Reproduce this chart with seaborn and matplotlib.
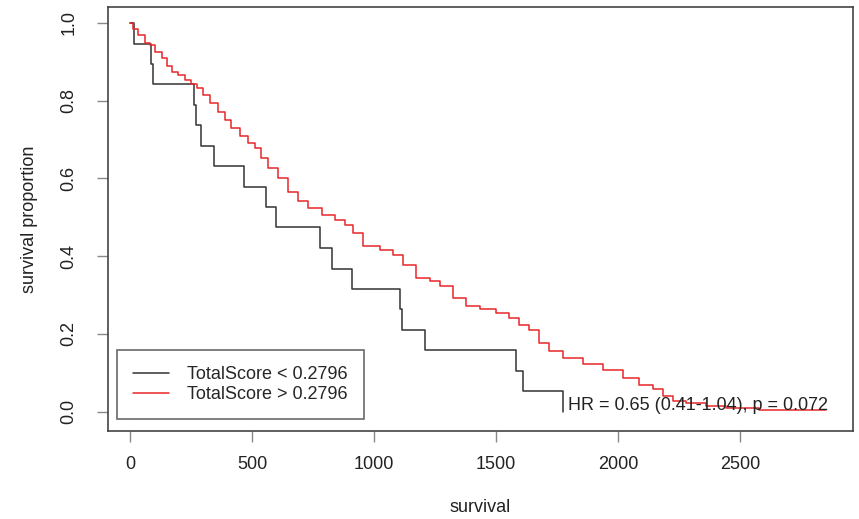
import matplotlib
matplotlib.use("Agg")
import matplotlib.pyplot as plt
from matplotlib.lines import Line2D
import seaborn as sns
import pandas as pd

# low TotalScore group (black curve)
low_time = [0, 16, 85, 93, 262, 270, 290, 345, 467, 556, 597, 779, 826, 908,
            1107, 1115, 1209, 1582, 1609, 1775]
low_surv = [1.0, 0.947, 0.895, 0.842, 0.789, 0.737, 0.684, 0.632, 0.579, 0.526,
            0.474, 0.421, 0.368, 0.316, 0.263, 0.211, 0.158, 0.105, 0.053, 0.0]

# high TotalScore group (red curve)
high_time = [0, 12, 34, 61, 82, 102, 130, 150, 171, 198, 225, 252, 273, 300,
             327, 362, 389, 416, 450, 484, 512, 539, 566, 607, 648, 689, 730,
             785, 839, 880, 914, 955, 1023, 1078, 1119, 1173, 1228, 1269, 1323,
             1378, 1433, 1501, 1555, 1596, 1637, 1678, 1719, 1774, 1856, 1937,
             2019, 2088, 2142, 2183, 2224, 2279, 2360, 2444, 2579, 2853]
high_surv = [1.0, 0.985, 0.969, 0.948, 0.943, 0.926, 0.909, 0.888, 0.875, 0.866,
             0.853, 0.842, 0.832, 0.815, 0.794, 0.772, 0.751, 0.729, 0.708, 0.691,
             0.678, 0.652, 0.626, 0.601, 0.566, 0.541, 0.524, 0.506, 0.494, 0.481,
             0.459, 0.425, 0.416, 0.404, 0.378, 0.344, 0.335, 0.322, 0.292, 0.272,
             0.264, 0.254, 0.241, 0.224, 0.211, 0.177, 0.155, 0.138, 0.123, 0.108,
             0.087, 0.069, 0.057, 0.039, 0.026, 0.022, 0.015, 0.01, 0.005, 0.005]

labels = ["TotalScore < 0.2796", "TotalScore > 0.2796"]
hr_text = "HR = 0.65 (0.41-1.04), p = 0.072"

df = pd.concat([
    pd.DataFrame({"time": low_time, "surv": low_surv, "group": labels[0]}),
    pd.DataFrame({"time": high_time, "surv": high_surv, "group": labels[1]}),
])

sns.set_theme(style="white")
plt.rcParams["font.family"] = ["Liberation Sans", "DejaVu Sans"]

fig = plt.figure(figsize=(8.59, 5.19), dpi=100)
ax = fig.add_axes([108 / 859, 1 - 431 / 519, (853 - 108) / 859, (431 - 7) / 519])

pal = {labels[0]: "#333333", labels[1]: "#e8262a"}
sns.lineplot(data=df, x="time", y="surv", hue="group", palette=pal,
             drawstyle="steps-post", linewidth=1.1, legend=False, ax=ax,
             estimator=None, sort=False)

ax.set_xlim(-90, 2963)
ax.set_ylim(-0.05, 1.041)
ax.set_xticks([0, 500, 1000, 1500, 2000, 2500])
ax.set_yticks([0.0, 0.2, 0.4, 0.6, 0.8, 1.0])
ax.set_yticklabels(["0.0", "0.2", "0.4", "0.6", "0.8", "1.0"], rotation=90, va="center")
ax.tick_params(axis="both", direction="out", length=8, width=1, color="#888888",
               labelsize=13, labelcolor="#222222", pad=10, left=True, bottom=True)
ax.tick_params(axis="y", pad=14)
for s in ax.spines.values():
    s.set_color("#444444")
    s.set_linewidth(1.2)

ax.set_xlabel("survival", fontsize=13, color="#222222", labelpad=19)
ax.set_ylabel("survival proportion", fontsize=13, color="#222222", labelpad=16)

handles = [Line2D([0], [0], color=pal[l], lw=1.1) for l in labels]
leg = ax.legend(handles, labels, loc="lower left", bbox_to_anchor=(0.012, 0.028),
                fontsize=13, frameon=True, fancybox=False, handlelength=2.0,
                handletextpad=1.0, borderpad=0.9, labelspacing=0.15,
                borderaxespad=0)
leg.get_frame().set_edgecolor("#444444")
leg.get_frame().set_linewidth(1.2)

ax.text(1795, 0.015, hr_text, fontsize=13, color="#222222", ha="left", va="center")

fig.savefig("out.png", dpi=100)
